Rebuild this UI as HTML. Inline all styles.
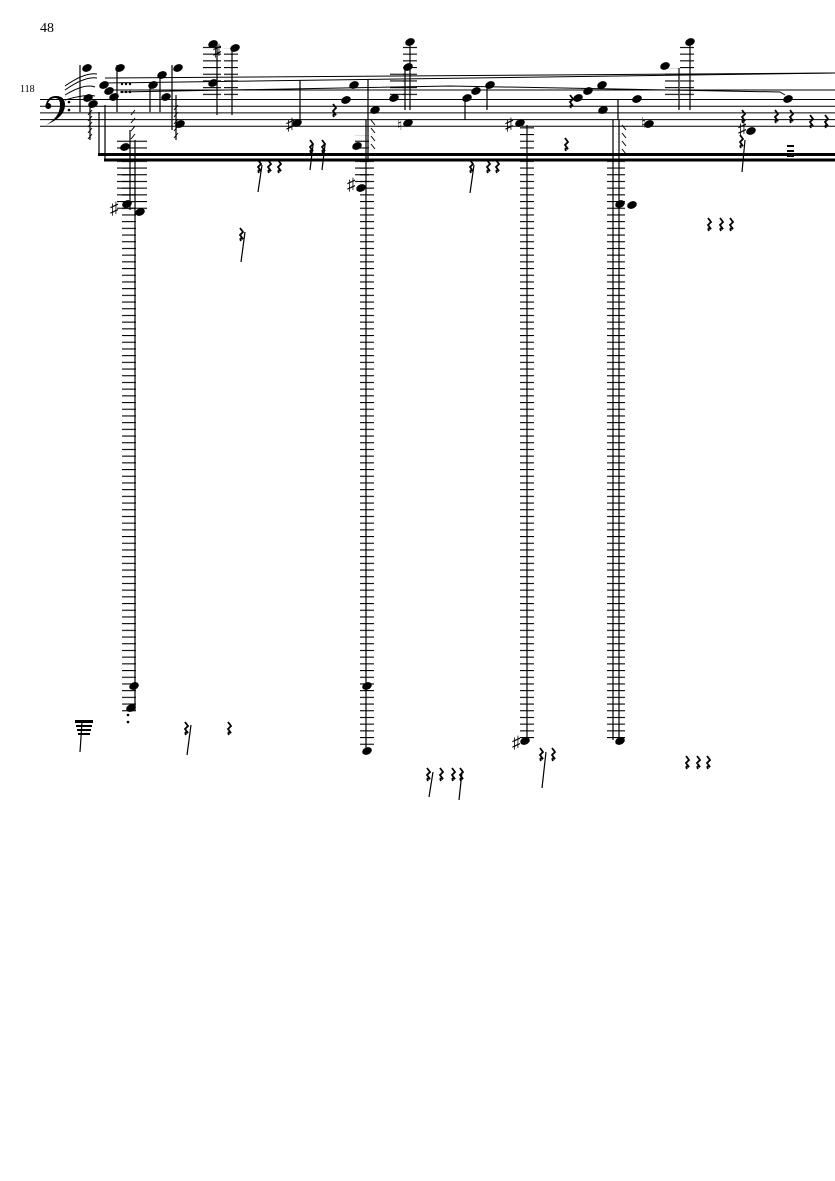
<!DOCTYPE html>
<html><head><meta charset="utf-8"><style>
html,body{margin:0;padding:0;background:#fff;}
svg{display:block}
text{font-family:"Liberation Serif",serif;}
</style></head><body>
<svg width="835" height="1181" viewBox="0 0 835 1181" xmlns="http://www.w3.org/2000/svg">
<defs>
<pattern id="led" width="14" height="6.7" patternUnits="userSpaceOnUse"><rect x="0" y="0" width="14" height="1.1" fill="#000"/></pattern>
<g id="rsm"><path d="M0,0 l3,4 l-3,3 l3,4 q-4,-2 -2,2" fill="none" stroke="#000" stroke-width="1.8"/></g>
<ellipse id="n" cx="0" cy="0" rx="5" ry="3.6" transform="rotate(-25)" fill="#000"/>
</defs>
<text x="40" y="32" font-size="14">48</text>
<text x="20" y="92" font-size="10">118</text>
<g stroke="#000" stroke-width="1">
<line x1="40" y1="99.5" x2="835" y2="99.5"/><line x1="40" y1="106.2" x2="835" y2="106.2"/><line x1="40" y1="112.9" x2="835" y2="112.9"/><line x1="40" y1="119.6" x2="835" y2="119.6"/><line x1="40" y1="126.3" x2="835" y2="126.3"/>
</g>
<path d="M46,104 q2,-8 10,-8 q9,0 9,9 q0,12 -19,20 q14,-8 14,-20 q0,-7 -5,-7 q-5,0 -7,5 a3,3 0 1 1 -2,1z" fill="#000"/>
<circle cx="69" cy="102" r="1.3"/><circle cx="69" cy="110" r="1.3"/>
<g fill="none" stroke="#000" stroke-width="1">
<path d="M65,100 q20,-6 30,-4"/><path d="M65,95 q20,-12 30,-8"/><path d="M65,90 q20,-14 32,-12"/><path d="M65,86 q20,-14 32,-12"/>
<line x1="105" y1="78" x2="835" y2="73"/>
<line x1="105" y1="83" x2="835" y2="73"/>
<line x1="110" y1="90" x2="835" y2="90"/>
<path d="M120,92 L450,86 L780,92 L785,95"/>
</g>
<rect x="98" y="153" width="737" height="3" fill="#000"/>
<rect x="104" y="158.5" width="731" height="3" fill="#000"/>
<line x1="99" y1="112" x2="99" y2="155" stroke="#000" stroke-width="1.2"/>
<line x1="105" y1="105" x2="105" y2="160" stroke="#000" stroke-width="1.2"/>
<rect x="122" y="160" width="14" height="552" fill="url(#led)"/>
<rect x="117" y="140" width="30" height="70" fill="url(#led)"/>
<rect x="360" y="160" width="14" height="590" fill="url(#led)"/>
<rect x="355" y="135" width="14" height="50" fill="url(#led)"/>
<rect x="520" y="160" width="14" height="580" fill="url(#led)"/>
<rect x="607" y="150" width="18" height="590" fill="url(#led)"/>
<rect x="520" y="126" width="14" height="30" fill="url(#led)"/>
<rect x="203" y="44" width="18" height="55" fill="url(#led)"/>
<rect x="224" y="48" width="14" height="51" fill="url(#led)"/>
<rect x="403" y="44" width="14" height="55" fill="url(#led)"/>
<rect x="390" y="70" width="14" height="29" fill="url(#led)"/>
<rect x="680" y="44" width="14" height="55" fill="url(#led)"/>
<rect x="665" y="68" width="14" height="31" fill="url(#led)"/>
<g stroke="#000" stroke-width="1.2">
<line x1="135" y1="140" x2="135" y2="710"/><line x1="130" y1="130" x2="130" y2="210"/>
<line x1="366" y1="120" x2="366" y2="750"/><line x1="368" y1="80" x2="368" y2="160"/>
<line x1="527" y1="125" x2="527" y2="740"/>
<line x1="613" y1="120" x2="613" y2="740"/><line x1="619" y1="120" x2="619" y2="740"/>
<line x1="217" y1="44" x2="217" y2="115"/><line x1="232" y1="48" x2="232" y2="115"/>
<line x1="410" y1="44" x2="410" y2="110"/><line x1="405" y1="70" x2="405" y2="110"/>
<line x1="690" y1="44" x2="690" y2="110"/><line x1="679" y1="68" x2="679" y2="110"/>
<line x1="80" y1="65" x2="80" y2="112"/><line x1="90" y1="105" x2="90" y2="140"/>
<line x1="117" y1="65" x2="117" y2="112"/><line x1="150" y1="85" x2="150" y2="112"/><line x1="160" y1="72" x2="160" y2="112"/>
<line x1="172" y1="65" x2="172" y2="130"/><line x1="176" y1="95" x2="176" y2="140"/>
<line x1="300" y1="80" x2="300" y2="120"/><line x1="465" y1="100" x2="465" y2="120"/>
<line x1="487" y1="85" x2="487" y2="110"/><line x1="618" y1="100" x2="618" y2="120"/>
</g>
<g fill="#000">
<use href="#n" x="87" y="68"/><use href="#n" x="88" y="98"/><use href="#n" x="93" y="104"/>
<use href="#n" x="104" y="85"/><use href="#n" x="109" y="91"/><use href="#n" x="114" y="97"/>
<use href="#n" x="120" y="68"/><use href="#n" x="125" y="147"/><use href="#n" x="127" y="204"/><use href="#n" x="140" y="212"/>
<use href="#n" x="153" y="85"/><use href="#n" x="162" y="75"/><use href="#n" x="166" y="97"/><use href="#n" x="178" y="68"/><use href="#n" x="180" y="124"/>
<use href="#n" x="213" y="83"/><use href="#n" x="213" y="44"/><use href="#n" x="235" y="48"/>
<use href="#n" x="297" y="123"/><use href="#n" x="134" y="686"/><use href="#n" x="131" y="708"/>
<use href="#n" x="346" y="100"/><use href="#n" x="354" y="85"/><use href="#n" x="357" y="146"/><use href="#n" x="361" y="188"/>
<use href="#n" x="375" y="110"/><use href="#n" x="394" y="98"/><use href="#n" x="408" y="123"/><use href="#n" x="410" y="42"/><use href="#n" x="408" y="67"/>
<use href="#n" x="467" y="98"/><use href="#n" x="476" y="91"/><use href="#n" x="490" y="85"/><use href="#n" x="520" y="123"/>
<use href="#n" x="578" y="98"/><use href="#n" x="588" y="91"/><use href="#n" x="602" y="85"/><use href="#n" x="603" y="110"/><use href="#n" x="620" y="204"/><use href="#n" x="632" y="205"/>
<use href="#n" x="637" y="99"/><use href="#n" x="649" y="124"/><use href="#n" x="665" y="66"/><use href="#n" x="690" y="42"/>
<use href="#n" x="751" y="131"/><use href="#n" x="788" y="99"/>
<use href="#n" x="367" y="686"/><use href="#n" x="367" y="751"/><use href="#n" x="525" y="741"/><use href="#n" x="620" y="741"/>
</g>
<g font-size="17" font-family="DejaVu Sans,sans-serif">
<text x="110" y="214">♯</text><text x="213" y="56">♯</text><text x="286" y="130">♯</text><text x="347" y="190">♯</text>
<text x="505" y="130">♯</text><text x="738" y="134">♯</text><text x="512" y="748">♯</text>
</g>
<text x="397" y="130" font-size="15" font-family="DejaVu Sans,sans-serif">♮</text>
<text x="641" y="128" font-size="15" font-family="DejaVu Sans,sans-serif">♮</text>
<g stroke="#000" stroke-width="1" fill="none">
<path d="M92,110 l-4,5 M92,116 l-4,5 M92,122 l-4,5 M92,128 l-4,5 M92,134 l-4,5"/>
<path d="M135,110 l-4,5 M135,118 l-4,5 M135,126 l-4,5 M135,134 l-4,5"/>
<path d="M178,105 l-4,5 M178,112 l-4,5 M178,119 l-4,5 M178,126 l-4,5 M178,133 l-4,5"/>
<path d="M371,120 l4,5 M371,128 l4,5 M371,136 l4,5 M371,144 l4,5"/>
<path d="M622,125 l4,5 M622,133 l4,5 M622,141 l4,5 M622,149 l4,5"/>
</g>
<g fill="#000"><circle cx="122" cy="84" r="1.2"/><circle cx="126" cy="84" r="1.2"/><circle cx="130" cy="84" r="1.2"/><circle cx="122" cy="92" r="1.2"/><circle cx="126" cy="92" r="1.2"/><circle cx="130" cy="92" r="1.2"/>
<circle cx="128" cy="715" r="1.3"/><circle cx="128" cy="722" r="1.3"/></g>
<rect x="787" y="145" width="7" height="2" fill="#000"/><rect x="787" y="150" width="7" height="2" fill="#000"/><rect x="787" y="155" width="7" height="2" fill="#000"/>
<g>
<use href="#rsm" x="258" y="160"/><use href="#rsm" x="268" y="160"/><use href="#rsm" x="278" y="160"/>
<use href="#rsm" x="310" y="140"/><use href="#rsm" x="322" y="140"/>
<use href="#rsm" x="333" y="104"/><use href="#rsm" x="470" y="160"/><use href="#rsm" x="487" y="160"/><use href="#rsm" x="496" y="160"/>
<use href="#rsm" x="565" y="138"/><use href="#rsm" x="570" y="95"/><use href="#rsm" x="740" y="135"/><use href="#rsm" x="742" y="110"/><use href="#rsm" x="775" y="110"/><use href="#rsm" x="790" y="110"/>
<use href="#rsm" x="810" y="115"/><use href="#rsm" x="825" y="115"/>
<use href="#rsm" x="240" y="228"/><use href="#rsm" x="708" y="218"/><use href="#rsm" x="720" y="218"/><use href="#rsm" x="730" y="218"/>
<use href="#rsm" x="185" y="722"/><use href="#rsm" x="228" y="722"/>
<use href="#rsm" x="427" y="768"/><use href="#rsm" x="440" y="768"/><use href="#rsm" x="452" y="768"/><use href="#rsm" x="460" y="768"/>
<use href="#rsm" x="540" y="748"/><use href="#rsm" x="552" y="748"/>
<use href="#rsm" x="686" y="756"/><use href="#rsm" x="697" y="756"/><use href="#rsm" x="707" y="756"/>
</g>
<g stroke="#000" stroke-width="1.2" fill="#000">
<line x1="262" y1="165" x2="258" y2="192"/><line x1="313" y1="145" x2="310" y2="170"/><line x1="325" y1="145" x2="322" y2="170"/>
<line x1="474" y1="165" x2="470" y2="193"/><line x1="745" y1="140" x2="742" y2="172"/><line x1="245" y1="232" x2="241" y2="262"/>
<line x1="191" y1="725" x2="187" y2="755"/><line x1="433" y1="772" x2="429" y2="797"/><line x1="462" y1="772" x2="459" y2="800"/>
<line x1="546" y1="752" x2="542" y2="788"/><line x1="82" y1="722" x2="80" y2="752"/>
</g>
<path d="M75,720 h18 v3 h-18z M76,725 h16 v2 h-16z M77,729 h14 v2 h-14z M78,733 h12 v2 h-12z" fill="#000"/>
</svg>
</body></html>
